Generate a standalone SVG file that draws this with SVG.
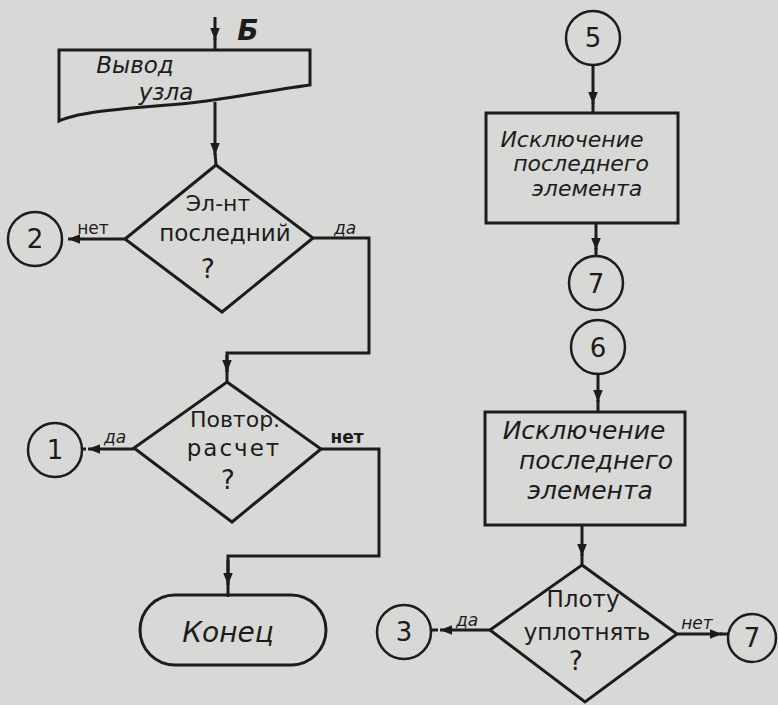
<svg xmlns="http://www.w3.org/2000/svg" width="778" height="705" viewBox="0 0 778 705">
<style>
.s{fill:none;stroke:#1c1c1c;stroke-width:3;stroke-linejoin:miter}
.c{fill:none;stroke:#1c1c1c;stroke-width:2.5}
.t{font-family:"DejaVu Sans","Liberation Sans",sans-serif;fill:#1c1c1c;text-anchor:middle}
.i{font-style:italic}
.lb{font-size:17px}
.n{font-size:26px}
</style>
<defs>
<marker id="ah" viewBox="0 0 10 10" refX="10" refY="5" markerWidth="4" markerHeight="4" orient="auto" markerUnits="strokeWidth">
<path d="M0,1 L10,5 L0,9 z" fill="#1c1c1c"/>
</marker>
</defs>
<rect width="778" height="705" fill="#d8d8d6"/>
<g id="connectors">
<line class="s" x1="215" y1="17" x2="215" y2="40" marker-end="url(#ah)"/>
<line class="s" x1="215" y1="38" x2="215" y2="50"/>
<line class="s" x1="215" y1="102" x2="215" y2="155" marker-end="url(#ah)"/>
<line class="s" x1="215" y1="153" x2="216" y2="165"/>
<line class="s" x1="125" y1="239" x2="68" y2="239" marker-end="url(#ah)"/>
<polyline class="s" points="313,238 369,238 369,353 227,353 227,372"/>
<line class="s" x1="227" y1="355" x2="227" y2="372" marker-end="url(#ah)"/>
<line class="s" x1="227" y1="370" x2="227" y2="382"/>
<line class="s" x1="134" y1="449" x2="88" y2="449" marker-end="url(#ah)"/>
<line class="s" x1="86" y1="449" x2="82" y2="449"/>
<polyline class="s" points="320,449 379,449 379,556 228,556 228,597"/>
<line class="s" x1="228" y1="560" x2="228" y2="585" marker-end="url(#ah)"/>
<line class="s" x1="593" y1="65" x2="593" y2="104" marker-end="url(#ah)"/>
<line class="s" x1="593" y1="102" x2="593" y2="113"/>
<line class="s" x1="596" y1="223" x2="596" y2="250" marker-end="url(#ah)"/>
<line class="s" x1="596" y1="248" x2="596" y2="256"/>
<line class="s" x1="598" y1="374" x2="598" y2="402" marker-end="url(#ah)"/>
<line class="s" x1="598" y1="400" x2="598" y2="412"/>
<line class="s" x1="582" y1="525" x2="582" y2="556" marker-end="url(#ah)"/>
<line class="s" x1="582" y1="554" x2="582" y2="565"/>
<line class="s" x1="490" y1="630" x2="440" y2="630" marker-end="url(#ah)"/>
<line class="s" x1="438" y1="630" x2="431" y2="630"/>
<line class="s" x1="677" y1="634" x2="722" y2="634" marker-end="url(#ah)"/>
<line class="s" x1="720" y1="634" x2="729" y2="634"/>
<text class="t i" x="248" y="40" font-size="28" font-weight="bold">Б</text>
<text class="t lb" x="93" y="234">нет</text>
<text class="t i lb" x="345" y="234">да</text>
<text class="t i lb" x="115" y="443">да</text>
<text class="t lb" x="347" y="443" font-size="14" font-weight="bold">нет</text>
<text class="t i lb" x="467" y="626">да</text>
<text class="t i lb" x="697" y="629">нет</text>
</g>
<g id="n_vyvod">
<path class="s" d="M59,50 L310,50 L310,85 C260,92 220,100 190,103 C150,107 110,108 78,115 C70,117 63,119 59,121 Z"/>
<text class="t i" x="135" y="73" font-size="23">Вывод</text>
<text class="t i" x="166" y="100" font-size="23">узла</text>
</g>
<g id="n_d1">
<polygon class="s" points="216,165 313,238 222,312 125,239"/>
<text class="t" x="218" y="211" font-size="22">Эл-нт</text>
<text class="t" x="225" y="241" font-size="23">последний</text>
<text class="t" x="208" y="278" font-size="26">?</text>
</g>
<g id="n_c2">
<circle class="c" cx="35" cy="239" r="27"/>
<text class="t n" x="35" y="248">2</text>
</g>
<g id="n_d2">
<polygon class="s" points="227,382 321,449 232,522 134,448"/>
<text class="t" x="235" y="427" font-size="22">Повтор.</text>
<text class="t" x="234" y="456" font-size="23" letter-spacing="2">расчет</text>
<text class="t" x="228" y="489" font-size="26">?</text>
</g>
<g id="n_c1">
<circle class="c" cx="55" cy="450" r="27"/>
<text class="t n" x="55" y="459">1</text>
</g>
<g id="n_end">
<rect class="s" x="140" y="595" width="186" height="70" rx="35" ry="35"/>
<text class="t i" x="228" y="642" font-size="28">Конец</text>
</g>
<g id="n_c5">
<circle class="c" cx="593" cy="38" r="27"/>
<text class="t n" x="593" y="47">5</text>
</g>
<g id="n_box1">
<rect class="s" x="486" y="113" width="192" height="110"/>
<text class="t i" x="572" y="147" font-size="22">Исключение</text>
<text class="t i" x="581" y="171" font-size="22">последнего</text>
<text class="t i" x="587" y="196" font-size="22">элемента</text>
</g>
<g id="n_c7a">
<circle class="c" cx="596" cy="283" r="27"/>
<text class="t n" x="596" y="293">7</text>
</g>
<g id="n_c6">
<circle class="c" cx="598" cy="347" r="27"/>
<text class="t n" x="598" y="357">6</text>
</g>
<g id="n_box2">
<rect class="s" x="485" y="412" width="200" height="113"/>
<text class="t i" x="584" y="439" font-size="25">Исключение</text>
<text class="t i" x="596" y="469" font-size="25">последнего</text>
<text class="t i" x="590" y="499" font-size="25">элемента</text>
</g>
<g id="n_d3">
<polygon class="s" points="582,565 677,634 585,702 490,630"/>
<text class="t" x="583" y="607" font-size="23">Плоту</text>
<text class="t" x="587" y="640" font-size="23">уплотнять</text>
<text class="t" x="576" y="670" font-size="26">?</text>
</g>
<g id="n_c3">
<circle class="c" cx="404" cy="632" r="27"/>
<text class="t n" x="404" y="641">3</text>
</g>
<g id="n_c7b">
<circle class="c" cx="752" cy="638" r="24"/>
<text class="t n" x="752" y="647">7</text>
</g>
</svg>
